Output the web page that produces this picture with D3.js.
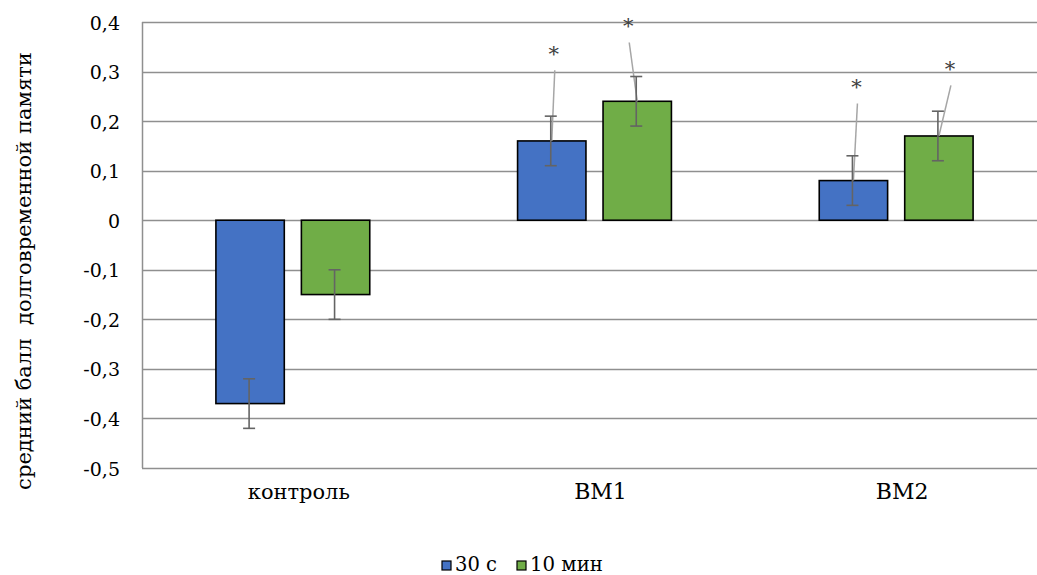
<!DOCTYPE html>
<html>
<head>
<meta charset="utf-8">
<script src="https://cdn.jsdelivr.net/npm/d3@7"></script>
<style>
  body { margin: 0; background: #fff; }
</style>
</head>
<body>
<svg id="chart" width="1037" height="575"></svg>
<script>
  // chart values
  var categories = ['контроль', 'BM1', 'BM2'];
  var seriesNames = ['30 с', '10 мин'];
  var seriesColors = ['#4472C4', '#70AD47'];
  var values30s = [-0.37, 0.16, 0.08];
  var values10min = [-0.15, 0.24, 0.17];
  var errors30s = [0.05, 0.05, 0.05];
  var errors10min = [0.05, 0.05, 0.05];
  var yTicks = [0.4, 0.3, 0.2, 0.1, 0, -0.1, -0.2, -0.3, -0.4, -0.5];
  var yTitle = 'средний балл  долговременной памяти';
  // significance marks: category, series, value where the label sits
  var sigCategories = ['BM1', 'BM1', 'BM2', 'BM2'];
  var sigSeries = [0, 1, 0, 1];
  var sigLabelValues = [0.343, 0.399, 0.276, 0.3125];
  var sigLabelShift = [2, -9, 3, 11];

  // only DejaVu Serif gives serif digits + cyrillic in this sandbox
  var FONT = '"DejaVu Serif", serif';

  var svg = d3.select('#chart')
    .style('font-family', FONT);
  var margin = { left: 142, top: 22, right: -10, bottom: 107 };
  var W = 1037, H = 575;

  // scale a text's font size so that it spans the given width
  function fitWidth(sel, target) {
    sel.each(function() {
      var w = this.getComputedTextLength();
      var fs = parseFloat(d3.select(this).attr('font-size'));
      if(w > 0) {
        d3.select(this).attr('font-size', (fs * target / w).toFixed(2) + 'px');
      }
    });
  }

  var x = d3.scaleBand()
    .domain(categories)
    .range([margin.left, W - margin.right])
    .paddingInner(0.49)
    .paddingOuter(0.245);

  var xs = d3.scaleBand()
    .domain([0, 1])
    .range([0, x.bandwidth()])
    .paddingInner(0.2);

  var y = d3.scaleLinear()
    .domain([-0.5, 0.4])
    .range([H - margin.bottom, margin.top]);

  var fmt = function(v) {
    return v === 0 ? '0' : d3.format('.1f')(v).replace('.', ',').replace('−', '-');
  };

  // gridlines
  svg.append('g')
    .selectAll('line')
    .data(yTicks)
    .enter().append('line')
    .attr('x1', margin.left)
    .attr('x2', W)
    .attr('y1', function(d) { return Math.round(y(d)) + 0.5; })
    .attr('y2', function(d) { return Math.round(y(d)) + 0.5; })
    .attr('stroke', '#8f8f8f')
    .attr('stroke-width', 1.5);

  // left axis line
  svg.append('line')
    .attr('x1', margin.left + 0.5).attr('x2', margin.left + 0.5)
    .attr('y1', y(0.4)).attr('y2', y(-0.5))
    .attr('stroke', '#8f8f8f')
    .attr('stroke-width', 1.5);

  // tick labels
  svg.append('g')
    .selectAll('text')
    .data(yTicks)
    .enter().append('text')
    .attr('x', 120)
    .attr('y', function(d) { return y(d) + 7.5; })
    .attr('text-anchor', 'end')
    .attr('font-size', '19px')
    .text(fmt);

  // category labels
  var catText = svg.append('g')
    .selectAll('text')
    .data(categories)
    .enter().append('text')
    .attr('x', function(d) { return x(d) + x.bandwidth() / 2 + 6; })
    .attr('y', 499)
    .attr('text-anchor', 'middle')
    .attr('font-size', '22px')
    .text(function(d) { return d; });
  fitWidth(catText.filter(function(d, i) { return i === 0; }), 102);

  // y title
  var title = svg.append('text')
    .attr('transform', 'translate(31,271) rotate(-90)')
    .attr('text-anchor', 'middle')
    .attr('font-size', '20px')
    .style('white-space', 'pre')
    .text(yTitle);
  fitWidth(title, 438);

  var series = [
    { vals: values30s, errs: errors30s },
    { vals: values10min, errs: errors10min }
  ];

  var bars = [];
  series.forEach(function(s, si) {
    categories.forEach(function(c, ci) {
      bars.push({ cat: c, s: si, v: s.vals[ci], e: s.errs[ci] });
    });
  });

  svg.append('g')
    .selectAll('rect')
    .data(bars)
    .enter().append('rect')
    .attr('x', function(d) { return x(d.cat) + xs(d.s); })
    .attr('width', xs.bandwidth())
    .attr('y', function(d) { return y(Math.max(0, d.v)); })
    .attr('height', function(d) { return Math.abs(y(d.v) - y(0)); })
    .attr('fill', function(d) { return seriesColors[d.s]; })
    .attr('stroke', '#000')
    .attr('stroke-width', 1.6);

  // leader lines for significance labels
  var sig = sigCategories.map(function(c, i) {
    var ci = categories.indexOf(c);
    var s = sigSeries[i];
    return {
      bx: x(c) + xs(s) + xs.bandwidth() / 2,
      by: y(series[s].vals[ci]),
      lx: x(c) + xs(s) + xs.bandwidth() / 2 + sigLabelShift[i],
      ly: y(sigLabelValues[i])
    };
  });

  svg.append('g')
    .selectAll('line')
    .data(sig)
    .enter().append('line')
    .attr('x1', function(d) { return d.lx + 1; })
    .attr('y1', function(d) { return d.ly + 20; })
    .attr('x2', function(d) { return d.bx; })
    .attr('y2', function(d) { return d.by; })
    .attr('stroke', '#a6a6a6')
    .attr('stroke-width', 1.5);

  // error bars
  var errG = svg.append('g')
    .attr('stroke', '#646464')
    .attr('stroke-width', 1.6);
  bars.forEach(function(d) {
    var cx = x(d.cat) + xs(d.s) + xs.bandwidth() / 2 - 1;
    errG.append('line')
      .attr('x1', cx).attr('x2', cx)
      .attr('y1', y(d.v + d.e)).attr('y2', y(d.v - d.e));
    errG.append('line')
      .attr('x1', cx - 6).attr('x2', cx + 6)
      .attr('y1', y(d.v + d.e)).attr('y2', y(d.v + d.e));
    errG.append('line')
      .attr('x1', cx - 6).attr('x2', cx + 6)
      .attr('y1', y(d.v - d.e)).attr('y2', y(d.v - d.e));
  });

  // asterisks
  svg.append('g')
    .selectAll('text')
    .data(sig)
    .enter().append('text')
    .attr('x', function(d) { return d.lx; })
    .attr('y', function(d) { return d.ly + 11; })
    .attr('text-anchor', 'middle')
    .attr('font-size', '21px')
    .attr('fill', '#404040')
    .text('*');

  // legend
  var leg = svg.append('g');
  var legX = [442, 517];
  var legW = [42, 73];
  seriesNames.forEach(function(n, i) {
    leg.append('rect')
      .attr('x', legX[i]).attr('y', 561)
      .attr('width', 9).attr('height', 9)
      .attr('fill', seriesColors[i])
      .attr('stroke', '#000')
      .attr('stroke-width', 1.2);
    var t = leg.append('text')
      .attr('x', legX[i] + 13)
      .attr('y', 571)
      .attr('font-size', '20px')
      .style('white-space', 'pre')
      .text(n);
    fitWidth(t, legW[i]);
  });
</script>
</body>
</html>
